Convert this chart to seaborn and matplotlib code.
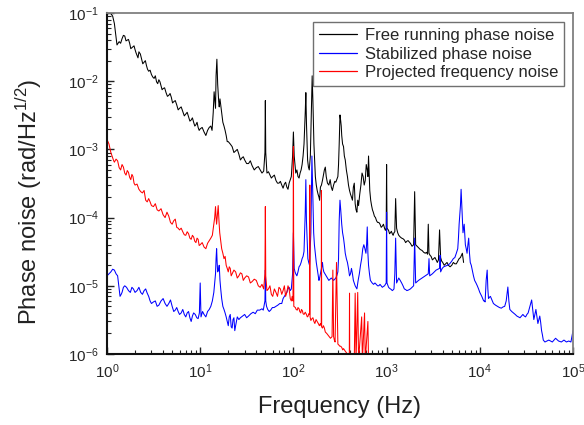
import matplotlib
matplotlib.use("Agg")
import matplotlib.pyplot as plt
import seaborn as sns
import pandas as pd
import numpy as np
from matplotlib.ticker import LogLocator, NullFormatter

# ---------------- data ----------------
# Free running phase noise: main trace + extra readings of its noisy band
free_f = [1.0, 1.05, 1.1, 1.15, 1.2, 1.25, 1.28, 1.35, 1.45, 1.55, 1.65, 1.75, 1.85, 2.0, 2.1, 2.2,
          2.35, 2.5, 2.65, 2.8, 3.0, 3.2, 3.4, 3.6, 3.8, 4.0, 4.3, 4.6, 4.9, 5.2, 5.6, 6.0, 6.5,
          7.0, 7.5, 8.0, 8.5, 9.0, 9.5, 10, 11, 12, 13, 13.8, 14.4, 14.8, 15.1, 15.4, 15.8, 16.3,
          17, 18, 19, 20, 22, 24, 26, 28, 30, 33, 36, 40, 44, 48, 49.5, 50, 50.5, 52, 56, 60, 65,
          70, 75, 80, 85, 90, 95, 98, 100, 102, 106, 112, 118, 124, 130, 134, 136, 138, 142, 148,
          152, 156, 159, 162, 166, 172, 180, 188, 195, 205, 215, 225, 240, 255, 270, 285, 300,
          310, 316, 322, 330, 345, 360, 380, 400, 420, 440, 460, 480, 500, 530, 560, 590, 620,
          640, 660, 690, 720, 760, 800, 850, 900, 950, 990, 1000, 1010, 1050, 1100, 1150, 1200,
          1250, 1280, 1350, 1450, 1550, 1650, 1800, 1950, 2000, 2050, 2200, 2400, 2600, 2750,
          2800, 2850, 3000, 3200, 3400, 3600, 3700, 3800, 4000, 4300, 4600, 5000, 5400, 5800,
          6200, 6500, 6700]
free_v = [0.095, 0.1, 0.098, 0.09, 0.07, 0.045, 0.034, 0.038, 0.042, 0.046, 0.040, 0.036, 0.031,
          0.029, 0.024, 0.027, 0.021, 0.019, 0.017, 0.014, 0.0125, 0.011, 0.0098, 0.0105, 0.0085,
          0.0078, 0.0068, 0.0062, 0.0058, 0.0050, 0.0045, 0.0040, 0.0036, 0.0033, 0.0030, 0.0027,
          0.0025, 0.0023, 0.0021, 0.0020, 0.0018, 0.0019, 0.0022, 0.0035, 0.005, 0.012, 0.021,
          0.009, 0.005, 0.0055, 0.0035, 0.0022, 0.0016, 0.0013, 0.0011, 0.00095, 0.00085, 0.00075,
          0.0007, 0.00062, 0.00058, 0.00054, 0.0005, 0.00048, 0.0009, 0.0052, 0.0009, 0.00045,
          0.00042, 0.0004, 0.00035, 0.00032, 0.0003, 0.00031, 0.00028, 0.00032, 0.0004, 0.0008,
          0.0018, 0.0008, 0.00045, 0.0004, 0.00045, 0.0006, 0.0012, 0.0035, 0.0068, 0.0025,
          0.0007, 0.0005, 0.0008, 0.004, 0.012, 0.005, 0.0012, 0.0004, 0.00025, 0.0002, 0.00028,
          0.00035, 0.0005, 0.0004, 0.0003, 0.00028, 0.0003, 0.00033, 0.0004, 0.0012, 0.0032,
          0.0026, 0.0016, 0.0011, 0.0007, 0.0004, 0.00025, 0.0002, 0.00028, 0.00016, 0.00012,
          0.00015, 0.0003, 0.0004, 0.00035, 0.0005, 0.0008, 0.00025, 0.00015, 0.00012, 0.0001,
          8.5e-5, 8.0e-5, 7.5e-5, 7.0e-5, 7.0e-5, 6.0e-4, 7.0e-5, 6.5e-5, 6.0e-5, 5.8e-5, 6.0e-5,
          1.9e-4, 7.0e-5, 5.5e-5, 5.0e-5, 4.7e-5, 4.5e-5, 4.2e-5, 4.0e-5, 2.4e-4, 4.0e-5, 3.6e-5,
          3.3e-5, 3.0e-5, 2.9e-5, 8.0e-5, 3.0e-5, 2.7e-5, 2.5e-5, 2.4e-5, 2.4e-5, 6.6e-5, 2.6e-5,
          2.2e-5, 2.1e-5, 2.0e-5, 2.0e-5, 2.1e-5, 2.3e-5, 2.6e-5, 3.0e-5, 2.2e-5]
free_f_extra = [1.4, 1.5, 1.6, 1.7, 1.8, 1.95, 2.05, 2.15, 2.28, 2.42, 2.58, 2.72, 2.9, 3.1, 3.3,
                3.5, 3.7, 3.9, 4.15, 4.45, 4.75, 5.05, 5.4, 5.8, 6.25, 6.75, 7.25, 7.75, 8.25,
                8.75, 9.25, 9.75, 10.5, 11.5, 12.5, 13.4, 14.1, 14.6, 15.6, 16.0, 16.7, 17.5,
                18.5, 19.5, 21, 23, 25, 27, 29, 31.5, 34.5, 38, 42, 46, 54, 58, 62.5, 67.5, 72.5,
                77.5, 82.5, 87.5, 92.5, 109, 115, 121, 127, 145, 169, 176, 184, 191, 200, 210,
                220, 232, 248, 262, 278, 292, 305, 326, 337, 352, 370, 390, 410, 430, 450, 470,
                490, 515, 545, 575, 605, 630, 675, 705, 740, 780, 825, 875, 925, 970, 1075, 1125,
                1175, 1225, 1315, 1400, 1500, 1600, 1700, 1875, 2125, 2300, 2500, 2675, 2925,
                3100, 3300, 3500, 3900, 4150, 4450, 4800, 5200, 5600, 6000, 6350]
free_v_extra = [0.036, 0.047, 0.039, 0.041, 0.030, 0.033, 0.026, 0.022, 0.025, 0.018, 0.020,
                0.015, 0.0145, 0.0115, 0.012, 0.0092, 0.0098, 0.0075, 0.0080, 0.0060, 0.0066,
                0.0048, 0.0052, 0.0038, 0.0042, 0.0031, 0.0035, 0.0026, 0.0029, 0.0022, 0.0025,
                0.0019, 0.0021, 0.0016, 0.0021, 0.0019, 0.007, 0.004, 0.0065, 0.0042, 0.0042,
                0.0025, 0.0019, 0.0013, 0.0012, 0.0009, 0.001, 0.0007, 0.00078, 0.00062, 0.00068,
                0.0005, 0.00056, 0.00045, 0.00047, 0.00038, 0.00042, 0.00032, 0.00034, 0.00027,
                0.00033, 0.00026, 0.00036, 0.0005, 0.00038, 0.0005, 0.0008, 0.00055, 0.0007,
                0.0003, 0.00022, 0.00018, 0.0003, 0.00042, 0.00055, 0.00032, 0.00036, 0.00025,
                0.00034, 0.00036, 0.0006, 0.0022, 0.0012, 0.0008, 0.0005, 0.0003, 0.00022,
                0.00018, 0.00032, 0.00013, 0.00018, 0.00022, 0.00045, 0.0003, 0.0006, 0.0004,
                0.00018, 0.00013, 0.000105, 0.00009, 0.000085, 0.000072, 0.00008, 0.000065,
                0.000058, 0.000063, 0.000055, 0.000062, 0.00006, 0.000052, 0.000049, 0.000043,
                0.000046, 0.000038, 0.000038, 0.000034, 0.000031, 0.000031, 0.000028, 0.000024,
                0.000026, 0.000022, 0.000023, 0.00002, 0.000022, 0.000019, 0.000022, 0.000021,
                0.000025, 0.000028]

# Stabilized phase noise
stab_f = [1.0, 1.1, 1.2, 1.3, 1.38, 1.45, 1.55, 1.7, 1.85, 2.0, 2.2, 2.4, 2.6, 2.8, 3.0, 3.3, 3.6,
          4.0, 4.4, 4.8, 5.2, 5.6, 6.0, 6.5, 7.0, 7.5, 8.0, 8.5, 9.2, 9.8, 10, 10.2, 11, 12, 13, 14,
          14.6, 15, 15.4, 16, 16.6, 17.5, 18.5, 19.5, 20.5, 21.5, 22.5, 23.5, 25, 27, 30, 33, 37,
          41, 46, 49.5, 50, 50.5, 53, 57, 62, 68, 75, 80, 85, 90, 95, 98, 100, 102, 106, 112, 118,
          124, 130, 134, 136, 138, 143, 149, 154, 158, 161, 165, 172, 180, 188, 195, 205, 212, 225,
          240, 255, 270, 285, 300, 310, 316, 322, 330, 345, 360, 380, 400, 420, 440, 460, 480, 510,
          540, 570, 600, 620, 640, 670, 700, 750, 800, 850, 900, 950, 990, 1000, 1010, 1050, 1100,
          1150, 1200, 1250, 1280, 1350, 1450, 1550, 1650, 1800, 1950, 2000, 2050, 2200, 2400, 2600,
          2800, 2850, 2900, 3100, 3400, 3700, 3750, 3800, 4100, 4500, 5000, 5400, 5800, 6000, 6200,
          6300, 6450, 6600, 6800, 7000, 7300, 7600, 7900, 8300, 8800, 9400, 10000, 10500, 11000,
          11400, 12000, 12400, 13000, 14000, 15500, 17000, 18500, 20000, 21000, 23000, 25000,
          27000, 29000, 31000, 33000, 36000, 38000, 40000, 42000, 44000, 46000, 48000, 50000,
          55000, 60000, 65000, 70000, 75000, 80000, 85000, 90000, 95000, 100000]
stab_v = [1.4e-5, 1.6e-5, 1.7e-5, 1.4e-5, 7e-6, 8e-6, 1.0e-5, 8.5e-6, 9.5e-6, 8e-6, 9.5e-6, 7.5e-6,
          9e-6, 7e-6, 5.5e-6, 6e-6, 5.2e-6, 6.5e-6, 5e-6, 6.2e-6, 4.2e-6, 4.8e-6, 3.8e-6, 4.5e-6,
          3.5e-6, 4.2e-6, 3.0e-6, 4.0e-6, 3.4e-6, 4.0e-6, 1.1e-5, 3.5e-6, 3.8e-6, 4.2e-6, 5e-6,
          8e-6, 1.5e-5, 3.5e-5, 1.6e-5, 2e-5, 9e-6, 5e-6, 4e-6, 3e-6, 3.5e-6, 2.5e-6, 3.2e-6,
          2.2e-6, 3.5e-6, 3.4e-6, 3.8e-6, 3.6e-6, 4.1e-6, 4.4e-6, 4.6e-6, 6e-6, 1.7e-5, 6e-6,
          4.5e-6, 4.4e-6, 4.8e-6, 5.2e-6, 5.5e-6, 7e-6, 8e-6, 9.5e-6, 9e-6, 1.5e-5, 6e-5, 1.8e-5,
          1.5e-5, 1.6e-5, 2e-5, 2.5e-5, 3.2e-5, 1.2e-4, 3.6e-4, 9e-5, 2.5e-5, 2e-5, 6e-5, 8e-4,
          2.5e-4, 6e-5, 3e-5, 1.8e-5, 1.2e-5, 1.5e-5, 2.2e-5, 1.6e-5, 1.4e-5, 1.2e-5, 1.3e-5,
          1.2e-5, 1.3e-5, 1.6e-5, 9e-5, 1.8e-4, 1.3e-4, 8e-5, 5e-5, 3e-5, 2.2e-5, 1.4e-5, 1.8e-5,
          1.2e-5, 1e-5, 9e-6, 1.5e-5, 2.5e-5, 4e-5, 3e-5, 7.3e-5, 2e-5, 1.2e-5, 1.1e-5, 1.1e-5,
          1.0e-5, 1.05e-5, 9.5e-6, 1.0e-5, 1.1e-5, 1.2e-4, 1.1e-5, 9.5e-6, 9e-6, 8.5e-6, 9e-6,
          5e-5, 1.1e-5, 1.3e-5, 1.1e-5, 9e-6, 8.5e-6, 9e-6, 1e-5, 5e-5, 1.1e-5, 1.2e-5, 1.3e-5,
          1.4e-5, 1.5e-5, 2.5e-5, 1.4e-5, 1.5e-5, 1.7e-5, 1.8e-5, 2.8e-5, 1.6e-5, 1.9e-5, 2e-5,
          2.3e-5, 2.6e-5, 3.5e-5, 8e-5, 1.5e-4, 2.6e-4, 1.2e-4, 6e-5, 8e-5, 4e-5, 3e-5, 5e-5,
          2.2e-5, 1.7e-5, 1.2e-5, 1e-5, 8e-6, 7e-6, 6e-6, 5.8e-6, 1.7e-5, 6.5e-6, 7e-6, 5.5e-6,
          5e-6, 4.7e-6, 5e-6, 9.6e-6, 4.5e-6, 4e-6, 3.6e-6, 3.4e-6, 3.8e-6, 3.5e-6, 4e-6, 6.2e-6,
          3.2e-6, 4.5e-6, 2.8e-6, 3.6e-6, 2.2e-6, 1.6e-6, 1.5e-6, 1.6e-6, 1.5e-6, 1.7e-6,
          1.55e-6, 1.5e-6, 1.6e-6, 1.5e-6, 1.55e-6, 1.5e-6, 2.2e-6]
stab_f_extra = [1.05, 1.15, 1.25, 1.34, 1.42, 1.5, 1.62, 1.78, 1.92, 2.1, 2.3, 2.5, 2.7, 2.9, 3.15,
                3.45, 3.8, 4.2, 4.6, 5.0, 5.4, 5.8, 6.25, 6.75, 7.25, 7.75, 8.25, 8.85, 9.5, 10.6,
                11.5, 12.5, 13.5, 14.3, 14.8, 15.2, 15.7, 16.3, 17, 18, 19, 20, 21, 22, 23, 24,
                26, 28.5, 31.5, 35, 39, 43.5, 47.5, 51.5, 55, 59.5, 65, 71.5, 77.5, 82.5, 87.5,
                92.5, 104, 109, 115, 121, 127, 146, 168, 176, 184, 191, 200, 208, 218, 232, 248,
                262, 278, 292, 305, 326, 337, 352, 370, 390, 410, 430, 450, 470, 495, 525, 555,
                585, 610, 630, 655, 685, 725, 775, 825, 875, 925, 970, 1075, 1125, 1175, 1225,
                1315, 1400, 1500, 1600, 1725, 1875, 2125, 2300, 2500, 2700, 3000, 3250, 3550,
                3950, 4300, 4750, 5200, 5600, 5900, 6100, 6250, 6375, 6525, 6700, 6900, 7150,
                7450, 7750, 8100, 8550, 9100, 9700, 10250, 10750, 11200, 11700, 12200, 12700,
                13500, 14750, 16250, 17750, 19200, 20500, 22000, 24000, 26000, 28000, 30000,
                32000, 34500, 37000, 39000, 41000, 43000, 45000, 47000, 49000]
stab_v_extra = [1.5e-5, 1.75e-5, 1.5e-5, 1.0e-5, 7.5e-6, 9.5e-6, 9.5e-6, 8e-6, 9e-6, 8.5e-6, 8e-6,
                8.5e-6, 7.8e-6, 6e-6, 5.8e-6, 5e-6, 6e-6, 5.5e-6, 5.5e-6, 5e-6, 4.4e-6, 4.2e-6,
                4e-6, 3.8e-6, 4e-6, 3.4e-6, 3.6e-6, 3.8e-6, 3.3e-6, 4.2e-6, 3.5e-6, 4.5e-6, 6e-6,
                1.1e-5, 2.5e-5, 2.2e-5, 1.7e-5, 1.2e-5, 6.5e-6, 4.5e-6, 3.5e-6, 2.6e-6, 3.8e-6,
                2.4e-6, 3.4e-6, 2.6e-6, 3.2e-6, 3.6e-6, 3.4e-6, 3.9e-6, 3.9e-6, 4.4e-6, 4.4e-6,
                5e-6, 4.2e-6, 4.8e-6, 5e-6, 5.5e-6, 6.5e-6, 7.5e-6, 9e-6, 8.5e-6, 1.6e-5, 1.4e-5,
                1.9e-5, 2.2e-5, 2.7e-5, 2.2e-5, 4e-5, 2.2e-5, 1.5e-5, 1.3e-5, 1.8e-5, 1.8e-5,
                1.5e-5, 1.3e-5, 1.25e-5, 1.25e-5, 1.25e-5, 1.4e-5, 2.5e-5, 1e-4, 6e-5, 4e-5,
                2.5e-5, 1.8e-5, 1.5e-5, 1.5e-5, 1.1e-5, 9.5e-6, 1.2e-5, 2e-5, 3.5e-5, 3.5e-5,
                4e-5, 3e-5, 1.5e-5, 1.15e-5, 1.05e-5, 1.05e-5, 1e-5, 1e-5, 9.8e-6, 1.05e-5,
                9.2e-6, 8.8e-6, 8.7e-6, 1.5e-5, 1.2e-5, 1.2e-5, 1e-5, 8.8e-6, 8.7e-6, 9.5e-6,
                1.15e-5, 1.25e-5, 1.35e-5, 1.45e-5, 1.45e-5, 1.6e-5, 1.75e-5, 1.8e-5, 1.95e-5,
                2.1e-5, 2.5e-5, 3e-5, 5e-5, 1.1e-4, 2e-4, 1.8e-4, 9e-5, 7e-5, 5.5e-5, 3.5e-5,
                4e-5, 3e-5, 2e-5, 1.4e-5, 1.1e-5, 9e-6, 7.5e-6, 6.5e-6, 6e-6, 1.2e-5, 9e-6,
                6.8e-6, 6.2e-6, 5.2e-6, 4.8e-6, 4.9e-6, 6e-6, 6e-6, 4.2e-6, 3.8e-6, 3.5e-6,
                3.6e-6, 3.6e-6, 3.8e-6, 5e-6, 4.5e-6, 3.8e-6, 3.5e-6, 3.2e-6, 2.9e-6, 1.9e-6,
                1.55e-6]

# Projected frequency noise
proj_f = [1.0, 1.05, 1.1, 1.15, 1.2, 1.3, 1.4, 1.5, 1.6, 1.7, 1.8, 1.9, 2.0, 2.2, 2.4, 2.6, 2.8,
          3.0, 3.3, 3.6, 4.0, 4.4, 4.8, 5.2, 5.6, 6.0, 6.5, 7.0, 7.5, 8.0, 8.5, 9.0, 9.5, 10, 11,
          12, 13, 14, 14.6, 15, 15.6, 16.2, 17, 18, 19, 20, 21, 22, 24, 26, 28, 30, 33, 36, 40, 44,
          48, 49.5, 50, 50.5, 52, 56, 60, 65, 70, 75, 80, 85, 90, 95, 99, 100, 101, 105, 110, 115,
          120, 125, 130, 138, 144, 149, 150, 151, 158, 166, 175, 185, 195, 199, 200, 201, 210, 220,
          235, 250, 260, 265, 270, 280, 290, 300, 315, 330, 345, 360, 380, 398, 400, 402, 430, 450,
          460, 470, 490, 500, 540, 550, 580, 590, 630, 640, 700]
proj_v = [1.4e-3, 1.2e-3, 9e-4, 7.5e-4, 6.5e-4, 6.8e-4, 5e-4, 5.5e-4, 4.2e-4, 4.6e-4, 3.6e-4,
          4e-4, 3e-4, 2.6e-4, 2.3e-4, 1.8e-4, 1.9e-4, 1.5e-4, 1.6e-4, 1.25e-4, 1.1e-4, 1.2e-4,
          8.5e-5, 9e-5, 7.2e-5, 6.6e-5, 6.2e-5, 5.5e-5, 5.8e-5, 4.8e-5, 5.2e-5, 4.3e-5, 4.8e-5,
          4e-5, 3.7e-5, 4.2e-5, 5e-5, 8e-5, 1.45e-4, 8e-5, 1.5e-4, 6e-5, 3.5e-5, 2.5e-5, 2e-5,
          1.6e-5, 1.8e-5, 1.5e-5, 1.6e-5, 1.4e-5, 1.5e-5, 1.3e-5, 1.35e-5, 1.15e-5, 1.2e-5,
          9.5e-6, 9e-6, 1.5e-5, 1.45e-4, 1.4e-5, 8.5e-6, 1e-5, 7e-6, 8e-6, 9.5e-6, 7.5e-6, 1e-5,
          8e-6, 9e-6, 6e-6, 6e-6, 1.1e-3, 5e-6, 4.8e-6, 4.4e-6, 4.6e-6, 4e-6, 4.3e-6, 3.8e-6,
          3.8e-6, 3.6e-6, 3.8e-6, 3e-4, 3.5e-6, 3.3e-6, 3e-6, 3.2e-6, 2.8e-6, 2.8e-6, 2.6e-6,
          2.5e-4, 2.5e-6, 2.6e-6, 2.1e-6, 1.9e-6, 1.7e-6, 1.8e-6, 1.7e-5, 1.8e-6, 1.5e-6, 2.2e-5,
          1.4e-6, 1.3e-6, 1.25e-6, 1.2e-6, 1.1e-6, 1.0e-6, 9e-7, 7.8e-6, 9e-7, 9e-7, 8e-7,
          7.8e-6, 8e-7, 8e-6, 8e-7, 3.5e-6, 8e-7, 4e-6, 8e-7, 3e-6, 8e-7, 8e-7]
proj_f_extra = [1.08, 1.18, 1.25, 1.35, 1.45, 1.55, 1.65, 1.75, 1.85, 1.95, 2.1, 2.3, 2.5, 2.7,
                2.9, 3.15, 3.45, 3.8, 4.2, 4.6, 5.0, 5.4, 5.8, 6.25, 6.75, 7.25, 7.75, 8.25, 8.75,
                9.25, 9.75, 10.5, 11.5, 12.5, 13.5, 14.3, 14.8, 15.3, 15.9, 16.6, 17.5, 18.5,
                19.5, 20.5, 21.5, 23, 25, 27, 29, 31.5, 34.5, 38, 42, 46, 54, 58, 62.5, 67.5,
                72.5, 77.5, 82.5, 87.5, 92.5, 97, 107, 112, 117, 122, 127, 134, 141, 146, 154,
                162, 170, 180, 190, 205, 215, 228, 242, 275, 308, 322, 338, 352, 370]
proj_v_extra = [1.0e-3, 6.8e-4, 7.2e-4, 5.4e-4, 6e-4, 4.5e-4, 4.9e-4, 3.9e-4, 4.3e-4, 3.2e-4,
                3.1e-4, 2.4e-4, 2.5e-4, 1.7e-4, 1.7e-4, 1.45e-4, 1.3e-4, 1.35e-4, 1e-4, 1.05e-4,
                8e-5, 9.5e-5, 7e-5, 7e-5, 5.6e-5, 6.2e-5, 5e-5, 5.5e-5, 4.5e-5, 5e-5, 3.9e-5,
                4.3e-5, 3.5e-5, 4.6e-5, 5.5e-5, 1e-4, 1e-4, 1.1e-4, 9e-5, 4.5e-5, 3e-5, 2.7e-5,
                1.8e-5, 1.9e-5, 1.4e-5, 1.7e-5, 1.3e-5, 1.55e-5, 1.2e-5, 1.4e-5, 1.1e-5, 1.25e-5,
                1.0e-5, 1.05e-5, 9e-6, 7.5e-6, 9e-6, 7e-6, 9e-6, 8.5e-6, 7e-6, 1.0e-5, 6.5e-6,
                7e-6, 4.5e-6, 4.8e-6, 4.2e-6, 4.5e-6, 3.9e-6, 4.1e-6, 3.5e-6, 3.9e-6, 3.1e-6,
                3.4e-6, 2.8e-6, 3e-6, 2.6e-6, 2.4e-6, 2.4e-6, 2.0e-6, 1.8e-6, 1.6e-6, 1.35e-6,
                1.3e-6, 1.15e-6, 1.15e-6, 1.05e-6]

labels = ["Free running phase noise", "Stabilized phase noise", "Projected frequency noise"]
colors = ["#000000", "#0000ff", "#ff0000"]

# ---------------- plotting ----------------
sns.set_style("white")
plt.rcParams["font.family"] = ["Liberation Sans", "DejaVu Sans"]
plt.rcParams["mathtext.fontset"] = "custom"
plt.rcParams["mathtext.rm"] = "Liberation Sans"
plt.rcParams["mathtext.it"] = "Liberation Sans:italic"
plt.rcParams["mathtext.bf"] = "Liberation Sans:bold"

series = [
    (labels[0], free_f + free_f_extra, free_v + free_v_extra),
    (labels[1], stab_f + stab_f_extra, stab_v + stab_v_extra),
    (labels[2], proj_f + proj_f_extra, proj_v + proj_v_extra),
]
frames = []
for name, f, v in series:
    d = pd.DataFrame({"freq": f, "noise": v, "series": name}).sort_values("freq")
    frames.append(d)
df = pd.concat(frames, ignore_index=True)

fig = plt.figure(figsize=(5.84, 4.25), dpi=100)
ax = fig.add_axes([107 / 584, 1 - 354 / 425, (573 - 107) / 584, (354 - 13) / 425])

sns.lineplot(data=df, x="freq", y="noise", hue="series", hue_order=labels,
             palette=colors, estimator=None, sort=False, linewidth=0.75, ax=ax)

ax.set_xscale("log")
ax.set_yscale("log")
ax.set_xlim(1, 1e5)
ax.set_ylim(1e-6, 1e-1)

ax.xaxis.set_major_locator(LogLocator(base=10, numticks=10))
ax.xaxis.set_minor_locator(LogLocator(base=10, subs=np.arange(2, 10), numticks=100))
ax.yaxis.set_major_locator(LogLocator(base=10, numticks=10))
ax.yaxis.set_minor_locator(LogLocator(base=10, subs=np.arange(2, 10), numticks=100))
ax.xaxis.set_minor_formatter(NullFormatter())
ax.yaxis.set_minor_formatter(NullFormatter())

ax.tick_params(which="both", direction="in", bottom=True, left=True, top=False, right=False,
               labelsize=11, color="#222222")
ax.tick_params(which="major", length=5, width=1.0, pad=6)
ax.tick_params(which="minor", length=3, width=0.8)

for side in ["left", "bottom"]:
    ax.spines[side].set_color("#111111")
    ax.spines[side].set_linewidth(1.5)
for side in ["top", "right"]:
    ax.spines[side].set_color("#808080")
    ax.spines[side].set_linewidth(1.3)

ax.set_xlabel("Frequency (Hz)", fontsize=17, labelpad=11, color="#222222")
ax.set_ylabel("Phase noise (rad/Hz$^{1/2}$)", fontsize=17, color="#222222")
ax.yaxis.set_label_coords(-0.135, 0.447)

leg = ax.legend(loc="upper right", fontsize=12, frameon=True, fancybox=False,
                edgecolor="#707070", framealpha=1, handlelength=2.3, handletextpad=0.45,
                labelspacing=0.22, borderpad=0.35, borderaxespad=0.55)
leg.get_frame().set_linewidth(1.0)
for line in leg.get_lines():
    line.set_linewidth(0.9)

fig.savefig("out.png", dpi=100)
